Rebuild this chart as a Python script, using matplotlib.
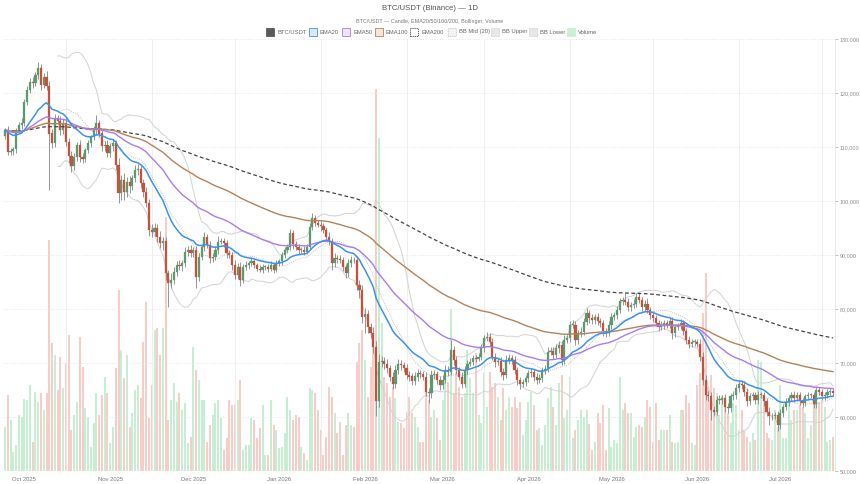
import numpy as np
import pandas as pd
import matplotlib
matplotlib.use("Agg")
import matplotlib.pyplot as plt
import matplotlib.dates as mdates
from matplotlib.patches import Rectangle
from matplotlib.ticker import FuncFormatter

plt.rcParams['font.family'] = ['Liberation Sans', 'DejaVu Sans']

# daily candles, first day 2025-09-24, prices in thousand USDT
START = "2025-09-24"
FIRST_OPEN = 112.0
CLOSE = [
    113.1, 109.1, 109.3, 109.6, 113.1, 114.0, 114.4, 118.4, 120.6, 122.1,
    121.8, 123.3, 124.6, 121.5, 123.0, 121.3, 112.5, 110.7, 115.3, 114.8,
    113.1, 114.5, 110.9, 108.3, 106.4, 108.2, 110.4, 108.2, 107.8, 109.4,
    110.7, 111.9, 113.1, 114.4, 112.5, 110.1, 110.4, 108.8, 110.1, 110.7,
    106.7, 101.4, 103.9, 101.7, 103.6, 102.7, 104.2, 105.7, 106.0, 103.3,
    101.7, 99.6, 94.6, 94.3, 95.0, 93.4, 92.2, 92.5, 86.6, 84.8,
    85.4, 86.9, 88.2, 87.9, 88.5, 90.6, 90.9, 90.3, 90.9, 86.0,
    89.7, 91.5, 93.4, 91.9, 89.4, 89.7, 90.9, 92.5, 92.5, 92.2,
    90.3, 90.0, 88.2, 86.3, 87.8, 85.4, 87.8, 88.2, 88.5, 88.8,
    88.2, 87.5, 87.3, 87.8, 87.8, 87.5, 88.2, 87.2, 88.5, 88.8,
    90.0, 90.9, 91.5, 94.0, 92.0, 91.5, 90.9, 91.0, 90.6, 91.5,
    95.2, 96.8, 96.0, 95.6, 95.3, 94.6, 93.4, 92.5, 88.5, 89.4,
    89.3, 89.1, 87.8, 86.6, 88.5, 89.1, 89.0, 84.5, 83.5, 78.6,
    79.0, 76.7, 75.5, 73.0, 62.9, 70.2, 70.4, 69.9, 69.0, 67.5,
    66.2, 68.7, 69.9, 69.6, 69.0, 67.8, 67.5, 66.6, 67.5, 68.1,
    68.0, 67.5, 64.7, 64.4, 67.8, 67.9, 66.9, 65.9, 66.9, 68.7,
    68.4, 72.4, 70.6, 68.7, 67.5, 66.2, 68.7, 69.9, 70.2, 70.9,
    70.8, 71.2, 72.7, 74.6, 74.9, 73.9, 71.2, 70.2, 70.3, 68.4,
    67.8, 70.6, 70.9, 70.6, 68.7, 66.9, 66.2, 66.4, 67.2, 68.1,
    68.4, 67.5, 66.9, 67.2, 68.7, 68.9, 72.1, 72.3, 71.5, 72.7,
    73.3, 70.6, 74.3, 74.6, 77.0, 77.1, 74.3, 75.5, 75.8, 77.6,
    79.2, 78.3, 77.9, 78.6, 77.7, 77.4, 75.9, 75.6, 77.0, 78.6,
    78.9, 79.8, 81.4, 81.7, 81.3, 80.4, 80.7, 81.0, 82.3, 81.7,
    80.4, 81.0, 79.8, 78.9, 78.3, 77.4, 76.7, 77.0, 77.4, 77.1,
    77.7, 75.5, 76.7, 77.0, 77.4, 75.9, 74.3, 73.6, 73.9, 73.9,
    73.6, 71.2, 66.9, 64.1, 63.8, 61.3, 61.0, 63.2, 63.2, 63.5,
    61.9, 61.6, 63.8, 64.1, 65.3, 66.2, 65.9, 64.7, 62.9, 63.8,
    64.1, 63.2, 64.1, 64.1, 62.9, 61.0, 60.1, 60.2, 60.4, 58.5,
    60.7, 61.9, 62.8, 63.5, 64.1, 63.5, 64.1, 62.9, 62.6, 63.8,
    64.1, 64.1, 62.4, 65.0, 64.7, 63.8, 64.1, 64.7, 64.9, 64.4,
]
WICK_UP = [
    0.5, 0.8, 0.6, 0.4, 0.5, 0.6, 0.9, 0.4, 0.7, 0.6, 0.9, 0.5, 1.2, 0.8, 0.7, 1.0, 0.9, 0.8, 0.9, 0.7,
    1.0, 0.6, 0.8, 0.7, 0.9, 0.6, 0.5, 0.9, 0.7, 0.5, 0.6, 0.4, 0.8, 1.5, 0.6, 0.8, 0.7, 0.9, 0.6, 0.8,
    0.6, 1.2, 0.9, 1.3, 0.8, 1.1, 0.7, 0.9, 0.8, 0.6, 0.7, 0.9, 0.8, 1.2, 0.9, 0.7, 1.0, 0.8, 0.9, 0.6,
    1.2, 0.8, 0.7, 0.9, 0.6, 0.8, 0.7, 0.9, 0.6, 0.8, 0.7, 0.6, 0.9, 0.5, 0.7, 0.6, 0.8, 1.0, 0.6, 0.7,
    0.6, 0.7, 0.5, 0.8, 0.7, 0.9, 0.5, 0.6, 0.4, 0.8, 0.5, 0.4, 0.6, 0.5, 0.4, 0.5, 0.6, 0.4, 0.5, 0.4,
    0.5, 0.6, 0.5, 0.8, 0.7, 0.6, 0.5, 0.4, 0.6, 0.5, 0.7, 0.9, 0.6, 0.5, 0.7, 0.6, 0.5, 0.8, 0.7, 0.9,
    0.6, 0.7, 0.5, 0.6, 0.8, 0.7, 0.6, 0.9, 0.8, 1.0, 1.2, 0.9, 0.8, 1.1, 1.0, 1.4, 0.9, 0.8, 0.9, 0.7,
    0.8, 1.0, 0.9, 0.7, 0.6, 0.8, 0.7, 0.6, 0.8, 0.7, 0.6, 0.5, 0.8, 0.7, 0.9, 0.8, 0.6, 0.7, 0.8, 0.9,
    0.7, 1.9, 0.8, 0.7, 0.6, 0.9, 0.7, 0.6, 0.8, 0.5, 0.6, 0.7, 0.8, 0.6, 0.9, 0.7, 0.8, 0.6, 0.7, 0.8,
    0.6, 0.8, 0.7, 0.6, 0.7, 0.5, 0.6, 0.7, 0.5, 0.6, 0.7, 0.5, 0.6, 0.8, 0.6, 0.7, 0.9, 0.6, 0.7, 0.8,
    0.7, 0.8, 0.9, 0.6, 0.8, 0.9, 0.7, 0.6, 0.8, 0.7, 0.9, 0.6, 0.7, 0.5, 0.6, 0.7, 0.5, 0.6, 0.8, 0.7,
    0.6, 0.8, 0.7, 0.6, 1.2, 0.7, 0.6, 0.8, 0.7, 0.9, 0.6, 0.7, 1.0, 0.6, 0.7, 0.5, 0.6, 0.7, 0.5, 0.6,
    0.7, 0.8, 0.6, 0.5, 0.7, 0.6, 0.5, 0.7, 0.6, 0.5, 0.6, 0.8, 0.9, 0.8, 0.7, 0.9, 0.8, 0.7, 0.9, 0.6,
    0.8, 0.7, 0.6, 0.7, 0.8, 0.6, 0.7, 0.8, 0.6, 0.7, 0.5, 0.6, 0.7, 0.5, 0.6, 0.7, 0.8, 0.6, 0.5, 0.7,
    0.8, 0.6, 0.7, 0.5, 0.6, 0.7, 0.5, 0.6, 0.7, 0.5, 0.6, 0.4, 0.6, 0.7, 0.5, 0.4, 0.6, 0.5, 0.4, 0.5,
]
WICK_DN = [
    0.6, 0.6, 0.5, 0.7, 0.8, 0.5, 0.6, 0.5, 0.7, 0.6, 0.8, 0.5, 0.7, 0.9, 0.6, 0.8, 10.5, 0.9, 0.7, 0.6,
    0.9, 0.7, 0.8, 1.2, 1.0, 0.6, 0.7, 0.9, 0.8, 0.6, 0.5, 0.7, 0.6, 0.8, 0.7, 0.9, 0.8, 0.7, 0.6, 0.8,
    0.9, 1.8, 1.2, 1.5, 1.0, 1.2, 0.7, 0.6, 0.8, 0.9, 1.0, 0.8, 1.1, 0.9, 0.8, 1.0, 0.9, 1.3, 1.2, 4.4,
    1.0, 0.7, 0.8, 0.6, 0.9, 0.7, 0.8, 0.6, 0.7, 2.2, 0.9, 0.7, 0.8, 0.6, 0.9, 0.7, 0.6, 0.8, 0.5, 0.7,
    0.8, 0.6, 0.9, 0.8, 0.7, 1.1, 0.6, 0.5, 0.7, 0.5, 0.6, 0.5, 0.4, 0.6, 0.5, 0.7, 0.5, 0.6, 0.4, 0.5,
    0.6, 0.5, 0.6, 0.5, 0.8, 0.6, 0.7, 0.5, 0.6, 0.5, 0.4, 0.6, 0.7, 0.5, 0.8, 0.6, 0.7, 0.6, 1.2, 0.8,
    0.7, 0.6, 0.8, 0.9, 0.6, 0.7, 0.5, 1.0, 1.4, 1.2, 3.0, 1.1, 0.9, 1.2, 2.8, 1.0, 0.9, 1.1, 0.8, 0.9,
    1.1, 0.8, 0.7, 0.9, 0.7, 0.8, 0.9, 0.7, 0.6, 0.8, 0.7, 0.6, 0.9, 1.9, 0.8, 0.7, 0.8, 0.9, 0.7, 0.6,
    0.8, 0.7, 0.9, 0.8, 0.7, 0.9, 0.6, 0.7, 0.5, 0.6, 0.7, 0.5, 0.6, 0.7, 0.6, 0.8, 0.7, 0.9, 0.6, 0.8,
    0.9, 0.6, 0.7, 0.8, 0.7, 0.9, 1.0, 0.7, 0.6, 0.7, 0.6, 0.8, 0.7, 0.6, 0.8, 0.7, 0.6, 0.7, 0.8, 0.6,
    0.8, 0.9, 0.7, 0.6, 0.7, 0.6, 0.9, 0.7, 0.6, 0.7, 0.6, 0.8, 0.7, 0.6, 0.7, 0.8, 0.9, 0.7, 0.6, 0.7,
    0.6, 0.7, 0.6, 0.7, 0.6, 0.8, 0.7, 0.6, 0.7, 0.6, 0.8, 0.7, 0.6, 0.8, 0.7, 0.6, 0.7, 0.6, 0.7, 0.6,
    0.7, 1.0, 0.7, 0.6, 0.7, 0.8, 0.7, 0.8, 0.6, 0.7, 0.6, 0.8, 1.0, 0.9, 0.8, 1.9, 0.9, 0.7, 0.8, 0.7,
    0.9, 0.8, 0.7, 0.6, 0.7, 0.6, 0.7, 0.8, 0.9, 0.7, 0.6, 0.8, 0.7, 0.6, 0.8, 0.9, 1.5, 0.7, 0.6, 1.0,
    0.8, 0.7, 0.6, 0.7, 0.6, 0.8, 0.6, 0.7, 0.8, 0.6, 0.7, 0.6, 0.8, 0.7, 0.6, 0.7, 0.6, 0.5, 0.6, 0.5,
]
# volume, thousand BTC
VOLUME = [
    4.4, 7.6, 5.1, 1.9, 2.6, 5.6, 5.4, 7.2, 7.1, 8.6,
    2.9, 7.9, 6.9, 7.8, 6.1, 7.8, 23.1, 12.8, 11.6, 8.1,
    11.4, 8.3, 10.8, 13.6, 4.1, 5.6, 6.9, 13.4, 10.4, 6.3,
    5.4, 2.4, 4.8, 7.8, 5.6, 7.6, 9.4, 7.8, 2.8, 4.4,
    10.3, 18.1, 12.1, 9.3, 11.6, 4.4, 5.8, 8.1, 8.6, 7.3,
    12.9, 16.9, 5.3, 8.6, 14.1, 14.3, 11.6, 14.3, 25.4, 5.1,
    7.1, 8.8, 6.9, 7.8, 6.1, 6.8, 2.8, 3.4, 12.4, 10.1,
    9.1, 7.1, 7.1, 2.9, 4.6, 5.6, 6.8, 7.1, 5.3, 2.1,
    3.3, 7.1, 6.6, 6.6, 7.1, 9.1, 2.1, 2.6, 2.6, 5.3,
    5.1, 3.3, 4.3, 6.6, 1.6, 1.6, 7.1, 4.6, 4.1, 2.3,
    2.4, 3.8, 7.4, 6.1, 5.1, 5.6, 5.4, 2.4, 1.8, 1.1,
    8.3, 8.1, 7.8, 6.1, 4.1, 1.6, 3.4, 8.4, 7.4, 5.8,
    3.8, 4.9, 1.6, 4.6, 5.8, 4.6, 4.4, 10.9, 12.8, 14.1,
    11.1, 7.4, 10.4, 13.1, 38.2, 33.3, 14.8, 9.4, 8.8, 7.4,
    8.4, 7.3, 4.9, 4.8, 4.3, 5.9, 7.4, 5.8, 5.4, 4.4,
    2.9, 2.9, 7.9, 7.1, 5.4, 6.1, 5.3, 3.1, 7.1, 9.3,
    8.9, 16.2, 7.8, 9.9, 8.4, 7.4, 7.8, 12.1, 9.3, 7.8,
    11.8, 5.6, 4.8, 9.8, 6.4, 9.9, 8.4, 8.8, 7.4, 5.1,
    8.3, 6.1, 7.4, 6.4, 7.4, 6.3, 6.9, 3.6, 5.1, 6.9,
    7.9, 6.6, 4.1, 4.3, 2.6, 4.6, 7.3, 8.4, 6.4, 4.6,
    8.8, 9.6, 5.3, 6.1, 9.4, 3.3, 4.1, 5.1, 6.1, 5.4,
    6.1, 4.7, 2.1, 2.9, 5.8, 4.8, 6.6, 2.1, 6.3, 2.4,
    3.1, 2.8, 9.4, 6.1, 6.8, 5.8, 5.8, 3.4, 4.4, 4.6,
    4.4, 5.4, 7.1, 6.4, 2.9, 6.8, 3.1, 4.1, 4.1, 4.1,
    5.6, 2.9, 2.8, 2.9, 6.1, 6.1, 7.6, 6.8, 2.8, 2.6,
    8.6, 9.8, 15.8, 19.8, 8.4, 9.6, 8.3, 7.8, 5.6, 7.6,
    7.1, 5.8, 4.8, 6.8, 6.6, 4.1, 6.1, 4.1, 3.4, 2.9,
    3.8, 3.1, 11.1, 10.9, 7.1, 3.8, 3.3, 3.1, 6.1, 4.4,
    8.6, 3.3, 3.3, 6.8, 5.1, 6.1, 6.1, 6.6, 6.4, 5.8,
    3.3, 4.6, 6.8, 6.8, 6.9, 7.1, 6.4, 2.9, 3.1, 3.4,
]

UP_COL = "#5b9a6b"
DN_COL = "#c4533e"
VOL_UP = "#c6eed3"
VOL_DN = "#f8ccc7"

dates = pd.date_range(START, periods=len(CLOSE), freq="D")
x = mdates.date2num(dates)
close = np.array(CLOSE) * 1000
open_ = np.concatenate([[FIRST_OPEN * 1000], close[:-1]])
high = np.maximum(open_, close) + np.array(WICK_UP) * 1000
low = np.minimum(open_, close) - np.array(WICK_DN) * 1000
vol = np.array(VOLUME)
up = close >= open_

s = pd.Series(close, index=dates)
ema = {n: s.ewm(span=n, adjust=False).mean().values for n in (20, 50, 100, 200)}
bb_mid = s.rolling(20).mean()
bb_sd = s.rolling(20).std(ddof=0)
bb_up = (bb_mid + 2 * bb_sd).values
bb_lo = (bb_mid - 2 * bb_sd).values
bb_mid = bb_mid.values

W, H = 860, 484
fig = plt.figure(figsize=(W / 100, H / 100), dpi=100)
left, right, top, bottom = 3, 835, 39, 471
ax_v = fig.add_axes([left / W, 1 - bottom / H, (right - left) / W, (bottom - top) / H])
ax = ax_v.twinx()

# volume (behind)
ax_v.bar(x, vol, width=0.7, color=np.where(up, VOL_UP, VOL_DN), zorder=1)
ax_v.set_ylim(0, 43.2)
ax_v.set_yticks([])
for sp in ax_v.spines.values():
    sp.set_visible(False)

# candles
ax.vlines(x, low, high, color="#858585", lw=0.6, zorder=3)
body = np.maximum(np.abs(close - open_), 150)
cols = np.where(up, UP_COL, DN_COL)
ax.bar(x, body, bottom=np.minimum(open_, close), width=0.76, color=cols,
       edgecolor=cols, lw=0.2, zorder=4)

# bollinger + emas
ax.plot(x, bb_up, color="#d2d2d2", lw=0.7, zorder=2)
ax.plot(x, bb_lo, color="#d2d2d2", lw=0.7, zorder=2)
ax.plot(x, bb_mid, color="#b0b0b0", lw=0.6, ls=(0, (1, 1.5)), zorder=2)
ax.plot(x, ema[200], color="#444444", lw=0.9, ls=(0, (3, 2)), zorder=5)
ax.plot(x, ema[100], color="#b5825a", lw=1.0, zorder=5)
ax.plot(x, ema[50], color="#a77cf3", lw=1.0, zorder=5)
ax.plot(x, ema[20], color="#3b93ef", lw=1.1, zorder=6)

ax.set_xlim(x[0] - 0.72, x[-1] + 0.72)
ax.set_ylim(50000, 130000)
ax.set_yticks(np.arange(50000, 130001, 10000))
ax.yaxis.set_major_formatter(FuncFormatter(lambda v, p: f"{v:,.0f}"))
ax.tick_params(axis="y", labelsize=3.9, colors="#8c8c8c", length=2, width=0.4, pad=1.5)
ax.grid(axis="y", color="#e4e4e4", lw=0.5, ls=(0, (2, 2)))
for sp in ax.spines.values():
    sp.set_visible(False)
ax.spines["right"].set_visible(True)
ax.spines["right"].set_color("#e0e0e0")
ax.spines["right"].set_linewidth(0.5)

ax_v.xaxis.set_major_locator(mdates.MonthLocator())
ax_v.xaxis.set_major_formatter(mdates.DateFormatter("%b %Y"))
ax_v.xaxis.set_minor_locator(mdates.MonthLocator(bymonthday=16))
ax_v.tick_params(axis="x", which="major", labelsize=4.2, colors="#777777", length=0, pad=4)
ax_v.tick_params(axis="x", which="minor", length=0)
ax_v.grid(axis="x", which="minor", color="#ececec", lw=0.6)
ax_v.set_xlim(x[0] - 0.72, x[-1] + 0.72)

# title block
fig.text(0.5, 1 - 9 / H, "BTC/USDT (Binance) — 1D", ha="center", va="center",
         fontsize=5.6, color="#555555")
fig.text(0.5, 1 - 21 / H, "BTC/USDT — Candle, EMA20/50/100/200, Bollinger, Volume",
         ha="center", va="center", fontsize=3.9, color="#777777")

legend_items = [
    ("BTC/USDT", 266, dict(fc="#5a5a5a", ec="#5a5a5a")),
    ("EMA20", 309, dict(fc="#dbeafb", ec="#3b93ef")),
    ("EMA50", 342, dict(fc="#eee5fd", ec="#a77cf3")),
    ("EMA100", 375, dict(fc="#f3e6dc", ec="#b5825a")),
    ("EMA200", 410, dict(fc="#ffffff", ec="#444444", ls=(0, (1.5, 1)))),
    ("BB Mid (20)", 448, dict(fc="#f2f2f2", ec="#bbbbbb", ls=(0, (1, 1)))),
    ("BB Upper", 491, dict(fc="#e8e8e8", ec="#dddddd")),
    ("BB Lower", 529, dict(fc="#e8e8e8", ec="#dddddd")),
    ("Volume", 567, dict(fc="#c9efd6", ec="#c9efd6")),
]
ly = 32
for label, px, style in legend_items:
    fig.add_artist(Rectangle((px / W, 1 - (ly + 3.5) / H), 8 / W, 7 / H,
                             transform=fig.transFigure, lw=0.6, **style))
    fig.text((px + 11) / W, 1 - ly / H, label, ha="left", va="center",
             fontsize=4.2, color="#666666")

fig.savefig("out.png", dpi=100, facecolor="white")
